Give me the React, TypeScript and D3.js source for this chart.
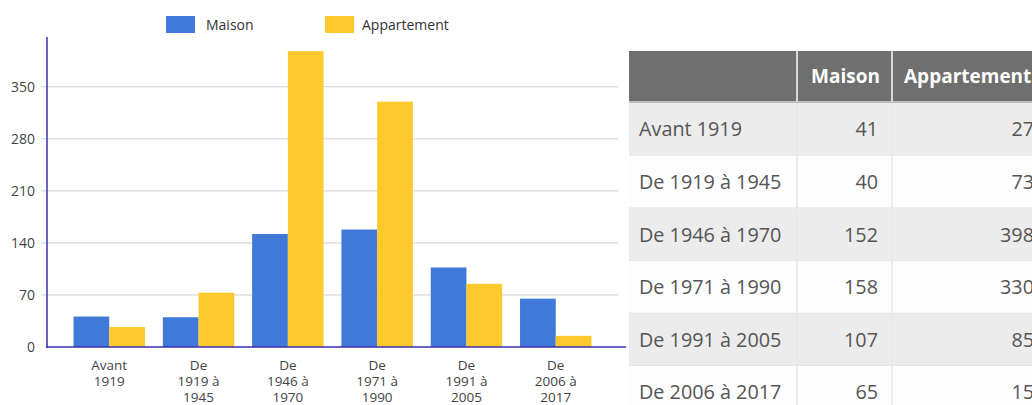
import React, { useRef, useEffect } from 'react';
import * as d3 from 'd3';

// données
const categories = ['Avant 1919', 'De 1919 à 1945', 'De 1946 à 1970', 'De 1971 à 1990', 'De 1991 à 2005', 'De 2006 à 2017'];
const axisLabels = [['Avant', '1919'], ['De', '1919 à', '1945'], ['De', '1946 à', '1970'], ['De', '1971 à', '1990'], ['De', '1991 à', '2005'], ['De', '2006 à', '2017']];
const maison = [41, 40, 152, 158, 107, 65];
const appartement = [27, 73, 398, 330, 85, 15];
const seriesNames = ['Maison', 'Appartement'];
const yTicks = [0, 70, 140, 210, 280, 350];

const WIDTH = 1032;
const HEIGHT = 405;
const COLORS = ['#4079d8', '#fec92c'];
const AXIS_COLOR = '#3a2fae';
const FONT = '"Open Sans", sans-serif';

const App: React.FC = () => {
  const svgRef = useRef<SVGSVGElement | null>(null);

  useEffect(() => {
    const svg = d3.select(svgRef.current);
    svg.selectAll('*').remove();
    svg.style('font-family', FONT);

    // --- graphique ---
    const x0 = d3.scaleBand().domain(categories).range([64.6, 600.4]).paddingInner(0).paddingOuter(0);
    const x1 = d3.scaleBand().domain(seriesNames).range([0, x0.bandwidth()]).paddingOuter(0.25).paddingInner(0);
    const y = d3.scaleLinear().domain([0, 417]).range([347, 37]);

    const chart = svg.append('g');

    // grille
    chart.append('g')
      .selectAll('line')
      .data(yTicks.filter(t => t > 0))
      .enter()
      .append('line')
      .attr('x1', 41)
      .attr('x2', 618)
      .attr('y1', d => y(d))
      .attr('y2', d => y(d))
      .attr('stroke', '#cfcfcf')
      .attr('stroke-width', 1);

    chart.append('g')
      .selectAll('text')
      .data(yTicks)
      .enter()
      .append('text')
      .attr('x', 35)
      .attr('y', d => y(d))
      .attr('dy', '0.36em')
      .attr('text-anchor', 'end')
      .attr('font-size', 14)
      .attr('fill', '#444')
      .text(d => d);

    // barres
    const rows = categories.map((c, i) => ({ c, vals: [maison[i], appartement[i]] }));
    const groups = chart.append('g')
      .selectAll('g')
      .data(rows)
      .enter()
      .append('g')
      .attr('transform', d => `translate(${x0(d.c)},0)`);

    groups.selectAll('rect')
      .data(d => d.vals.map((v, k) => ({ v, k })))
      .enter()
      .append('rect')
      .attr('x', d => x1(seriesNames[d.k])!)
      .attr('width', x1.bandwidth())
      .attr('y', d => y(d.v))
      .attr('height', d => y(0) - y(d.v))
      .attr('fill', d => COLORS[d.k]);

    // axes
    chart.append('line')
      .attr('x1', 47).attr('x2', 47)
      .attr('y1', y(417)).attr('y2', y(0) + 1)
      .attr('stroke', AXIS_COLOR).attr('stroke-width', 1.5);
    chart.append('line')
      .attr('x1', 46).attr('x2', 626)
      .attr('y1', y(0)).attr('y2', y(0))
      .attr('stroke', AXIS_COLOR).attr('stroke-width', 1.5);

    // étiquettes x
    const xl = chart.append('g')
      .selectAll('text')
      .data(axisLabels)
      .enter()
      .append('text')
      .attr('text-anchor', 'middle')
      .attr('font-size', 13.5)
      .attr('fill', '#444')
      .attr('transform', (_, i) => `translate(${x0(categories[i])! + x0.bandwidth() / 2},0)`);
    xl.selectAll('tspan')
      .data(d => d)
      .enter()
      .append('tspan')
      .attr('x', 0)
      .attr('y', (_, j) => 370 + j * 16)
      .text(d => d);

    // légende
    const legendX = [166, 325];
    const legend = svg.append('g')
      .selectAll('g')
      .data(seriesNames)
      .enter()
      .append('g')
      .attr('transform', (_, i) => `translate(${legendX[i]},16)`);
    legend.append('rect')
      .attr('width', 29).attr('height', 17)
      .attr('fill', (_, i) => COLORS[i]);
    legend.append('text')
      .attr('x', (_, i) => i === 0 ? 40 : 37).attr('y', 9)
      .attr('dy', '0.36em')
      .attr('font-size', 14)
      .attr('fill', '#333')
      .text(d => d);

    // --- tableau ---
    const tx = 629;
    const colRight = [797, 892];
    const headerTop = 51;
    const headerH = 51;
    const rowH = 52.6;
    const table = svg.append('g');

    table.append('rect')
      .attr('x', tx).attr('y', headerTop)
      .attr('width', WIDTH - tx).attr('height', headerH)
      .attr('fill', '#6f6f6f');
    table.append('line')
      .attr('x1', tx).attr('x2', WIDTH)
      .attr('y1', headerTop + headerH).attr('y2', headerTop + headerH)
      .attr('stroke', '#bdbdbd').attr('stroke-width', 2);
    colRight.forEach(cx => {
      table.append('line')
        .attr('x1', cx).attr('x2', cx)
        .attr('y1', headerTop).attr('y2', headerTop + headerH)
        .attr('stroke', '#d8d8d8').attr('stroke-width', 2);
    });
    table.selectAll('text.head')
      .data(seriesNames)
      .enter()
      .append('text')
      .attr('class', 'head')
      .attr('x', (_, i) => i === 0 ? colRight[1] - 12 : colRight[1] + 12)
      .attr('y', headerTop + headerH / 2)
      .attr('dy', '0.36em')
      .attr('text-anchor', (_, i) => i === 0 ? 'end' : 'start')
      .attr('font-size', 19)
      .attr('font-weight', 'bold')
      .attr('fill', '#fff')
      .text(d => d);

    const body = table.append('g')
      .selectAll('g')
      .data(rows)
      .enter()
      .append('g')
      .attr('transform', (_, i) => `translate(0,${headerTop + headerH + 1 + i * rowH})`);
    body.append('rect')
      .attr('x', tx).attr('y', 0)
      .attr('width', WIDTH - tx).attr('height', rowH)
      .attr('fill', (_, i) => i % 2 === 0 ? '#ececec' : '#fdfdfd');
    body.append('line')
      .attr('x1', tx).attr('x2', WIDTH)
      .attr('y1', rowH).attr('y2', rowH)
      .attr('stroke', '#e2e2e2').attr('stroke-width', 1.5);
    colRight.forEach(cx => {
      body.append('line')
        .attr('x1', cx).attr('x2', cx)
        .attr('y1', 0).attr('y2', rowH)
        .attr('stroke', (_, i) => i % 2 === 0 ? '#e6e6e6' : '#dcdcdc')
        .attr('stroke-width', 1);
    });
    body.append('text')
      .attr('x', tx + 10)
      .attr('y', rowH / 2)
      .attr('dy', '0.36em')
      .attr('font-size', 19.8)
      .attr('fill', '#555')
      .text(d => d.c);
    body.append('text')
      .attr('x', colRight[1] - 14)
      .attr('y', rowH / 2)
      .attr('dy', '0.36em')
      .attr('text-anchor', 'end')
      .attr('font-size', 19.8)
      .attr('fill', '#555')
      .text(d => d.vals[0]);
    body.append('text')
      .attr('x', 1034)
      .attr('y', rowH / 2)
      .attr('dy', '0.36em')
      .attr('text-anchor', 'end')
      .attr('font-size', 19.8)
      .attr('fill', '#555')
      .text(d => d.vals[1]);
  }, []);

  return (
    <svg
      ref={svgRef}
      width={WIDTH}
      height={HEIGHT}
      style={{ position: 'absolute', left: 0, top: 0, background: '#fff' }}
    />
  );
};

export default App;
